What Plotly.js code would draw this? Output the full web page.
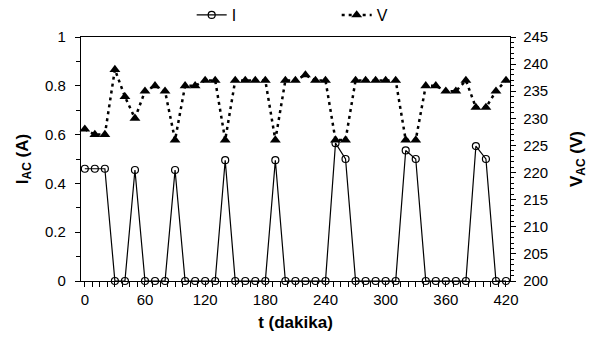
<!DOCTYPE html>
<html>
<head>
<meta charset="utf-8">
<script src="https://cdn.plot.ly/plotly-3.0.1.min.js"></script>
<style>
html,body{margin:0;padding:0;background:#fff;}
#chart{width:595px;height:342px;}
</style>
</head>
<body>
<div id="chart"></div>
<script>
// time in minutes
var tMin = [0,10,20,30,40,50,60,70,80,90,100,110,120,130,140,150,160,170,180,190,200,210,220,230,240,250,260,270,280,290,300,310,320,330,340,350,360,370,380,390,400,410,420];
// AC current (A)
var currentI = [0.46,0.46,0.46,0,0,0.455,0,0,0,0.455,0,0,0,0,0.495,0,0,0,0,0.495,0,0,0,0,0,0.565,0.50,0,0,0,0,0,0.535,0.50,0,0,0,0,0,0.553,0.50,0,0];
// AC voltage (V)
var voltageV = [228,227,227,239,234,230,235,236,235,226,236,236,237,237,226,237,237,237,237,226,237,237,238,237,237,226,226,237,237,237,237,237,226,226,236,236,235,235,237,232,232,235,237];
var xTickVals = [0,60,120,180,240,300,360,420];
var leftTickVals = [0,0.2,0.4,0.6,0.8,1];
var leftTickText = ['0','0.2','0.4','0.6','0.8','1'];
var rightTickVals = [200,205,210,215,220,225,230,235,240,245];

var FONT = 'Liberation Sans, Arial, sans-serif';

var traceI = {
  x: tMin, y: currentI, name: 'I', type: 'scatter', mode: 'lines+markers',
  line: {color: '#000', width: 1.2},
  marker: {symbol: 'circle-open', size: 7, color: '#000', line: {width: 1.2, color: '#000'}},
  cliponaxis: false, yaxis: 'y'
};
var traceV = {
  x: tMin, y: voltageV, name: 'V', type: 'scatter', mode: 'lines+markers',
  line: {color: '#000', width: 2.5, dash: '3px,4px'},
  marker: {symbol: 'triangle-up', size: 9.5, color: '#000'},
  cliponaxis: false, yaxis: 'y2'
};

var layout = {
  width: 595, height: 342,
  paper_bgcolor: '#fff', plot_bgcolor: '#fff',
  margin: {l: 81, r: 85, t: 37, b: 61, pad: 0, autoexpand: false},
  font: {family: FONT, size: 15, color: '#000'},
  showlegend: true,
  legend: {orientation: 'h', x: 0.258, xanchor: 'left', y: 1.09, yanchor: 'middle',
           font: {family: FONT, size: 16, color: '#000'}, entrywidth: 100, bgcolor: 'rgba(0,0,0,0)'},
  xaxis: {
    range: [-3.8, 424], tickmode: 'array', tickvals: xTickVals,
    showgrid: false, zeroline: false,
    showline: true, linecolor: '#000', linewidth: 1.2, mirror: true,
    ticks: 'outside', ticklen: 5, tickwidth: 1, tickcolor: '#000',
    minor: {dtick: 7.5, tick0: 0, ticks: 'outside', ticklen: 5, tickwidth: 1, tickcolor: '#000', showgrid: false},
    tickfont: {family: FONT, size: 15},
    title: {text: '<b>t (dakika)</b>', font: {family: FONT, size: 17}, standoff: 8}
  },
  yaxis: {
    range: [0, 1], tickmode: 'array', tickvals: leftTickVals, ticktext: leftTickText,
    showgrid: false, zeroline: false,
    showline: true, linecolor: '#000', linewidth: 1.2,
    ticks: 'outside', ticklen: 5, tickwidth: 1, tickcolor: '#000',
    minor: {dtick: 0.1, ticks: 'outside', ticklen: 4, tickwidth: 1, tickcolor: '#000', showgrid: false},
    tickfont: {family: FONT, size: 15},
    ticklabelstandoff: 6,
    title: {text: '<b>I<sub>AC</sub> (A)</b>', font: {family: FONT, size: 17}, standoff: 12}
  },
  yaxis2: {
    range: [200, 245], overlaying: 'y', side: 'right', anchor: 'x',
    tickmode: 'array', tickvals: rightTickVals,
    showgrid: false, zeroline: false,
    showline: true, linecolor: '#000', linewidth: 1.2,
    ticks: 'outside', ticklen: 5, tickwidth: 1, tickcolor: '#000',
    minor: {dtick: 1, ticks: 'outside', ticklen: 3, tickwidth: 1, tickcolor: '#000', showgrid: false},
    tickfont: {family: FONT, size: 15},
    ticklabelstandoff: 4,
    title: {text: '<b>V<sub>AC</sub> (V)</b>', font: {family: FONT, size: 17}, standoff: 22}
  }
};

Plotly.newPlot('chart', [traceI, traceV], layout, {staticPlot: true, displayModeBar: false});
</script>
</body>
</html>
